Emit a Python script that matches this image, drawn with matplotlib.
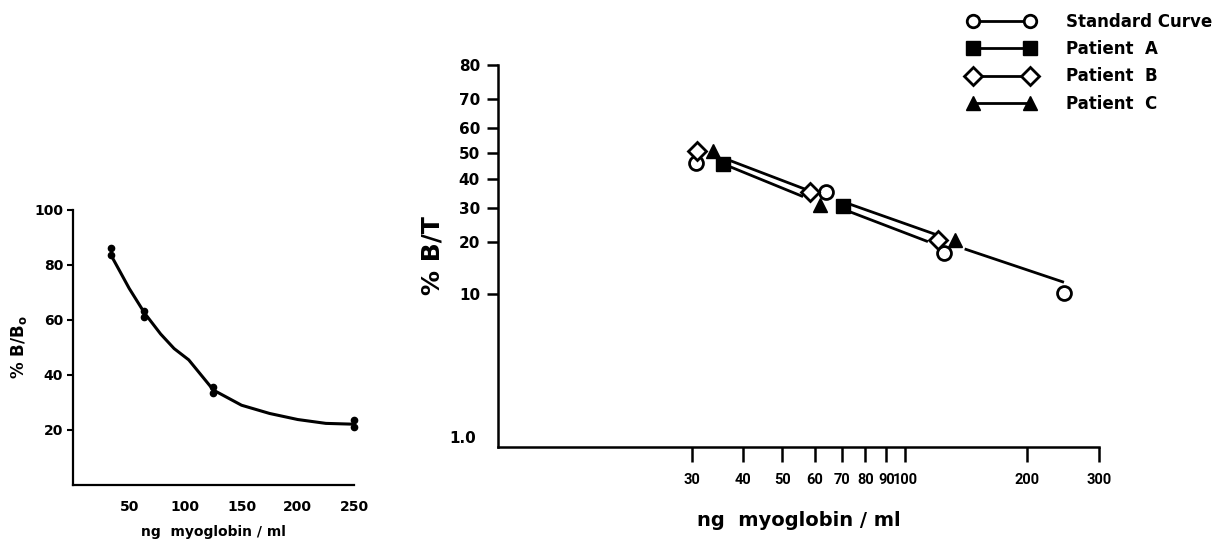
import numpy as np
import matplotlib
matplotlib.use('Agg')
import matplotlib.pyplot as plt
from matplotlib.lines import Line2D

plt.rcParams['font.family'] = ['DejaVu Sans']
plt.rcParams['font.weight'] = 'bold'

# left panel: % B/Bo against dose (duplicates)
dots_x = [34, 34, 63.5, 63.5, 125, 125, 250, 250]
dots_y = [86, 83.5, 63.4, 61.2, 35.8, 33.3, 23.6, 21.2]
curve_x = [33.8, 42, 50, 63.9, 78, 90, 103, 125, 150, 175, 200, 225, 250]
curve_y = [83.6, 77.5, 71.5, 62.4, 54.9, 49.6, 45.5, 34.5, 29.0, 26.0, 23.8, 22.4, 22.1]

# right panel: % B/T against dose (log / logit)
std_x = [30.6, 63.9, 124.8, 246.0]
std_y = [46.2, 35.5, 17.3, 10.1]
pat_a_x = [35.7, 70.6]
pat_a_y = [45.9, 30.5]
pat_b_x = [30.8, 58.5, 120.8]
pat_b_y = [51.1, 35.5, 20.5]
pat_c_x = [33.7, 61.8, 132.8]
pat_c_y = [51.0, 30.8, 20.4]

# lines as drawn in the figure (broken at the marker clusters)
line1_x = [37.2, 56.3, np.nan, 74.0, 118.6, np.nan, 141.3, 244.2]
line1_y = [47.2, 36.6, np.nan, 30.9, 22.0, np.nan, 18.2, 11.8]
line2_x = [37.2, 55.8, np.nan, 74.0, 113.1]
line2_y = [44.8, 33.9, np.nan, 28.4, 20.2]

xticks_r = [30, 40, 50, 60, 70, 80, 90, 100, 200, 300]
yticks_r = [10, 20, 30, 40, 50, 60, 70, 80]


def fwd(p):
    p = np.clip(np.asarray(p, dtype=float), 1e-6, 100 - 1e-6)
    return np.log(p / (100 - p))


def inv(z):
    return 100 / (1 + np.exp(-np.asarray(z, dtype=float)))


fig = plt.figure(figsize=(12.18, 5.42), dpi=100)

# ---- left
ax1 = fig.add_axes([0.0599, 0.1052, 0.2307, 0.5074])
ax1.plot(curve_x, curve_y, color='k', lw=2.2, solid_capstyle='round', solid_joinstyle='round')
ax1.plot(dots_x, dots_y, 'o', color='k', ms=4.5, clip_on=False)
ax1.set_xlim(0, 250)
ax1.set_ylim(0, 100)
ax1.set_xticks([50, 100, 150, 200, 250])
ax1.set_yticks([20, 40, 60, 80, 100])
ax1.tick_params(axis='x', length=0, pad=11, labelsize=10)
ax1.tick_params(axis='y', length=4, width=1.5, pad=3, labelsize=10)
ax1.set_xlabel('ng  myoglobin / ml', fontsize=10, fontweight='bold', labelpad=8)
ax1.set_ylabel(r'% B/B$_\mathbf{o}$', fontsize=12, fontweight='bold', labelpad=4)
for s in ['top', 'right']:
    ax1.spines[s].set_visible(False)
for s in ['left', 'bottom']:
    ax1.spines[s].set_linewidth(1.6)

# ---- right
ax2 = fig.add_axes([0.4089, 0.1758, 0.4934, 0.7043])
ax2.set_xscale('log')
ax2.set_yscale('function', functions=(fwd, inv))

ax2.plot(line1_x, line1_y, color='k', lw=2.0, zorder=2)
ax2.plot(line2_x, line2_y, color='k', lw=2.0, zorder=2)

ax2.plot(std_x, std_y, 'o', ms=10, mfc='white', mec='k', mew=2, zorder=3)
ax2.plot(pat_a_x, pat_a_y, 's', ms=10, color='k', zorder=3)
ax2.plot(pat_b_x, pat_b_y, 'D', ms=9, mfc='white', mec='k', mew=2, zorder=3)
ax2.plot(pat_c_x, pat_c_y, '^', ms=10, color='k', zorder=3)

ax2.set_xlim(10, 300)
ax2.set_ylim(1, 80)
ax2.set_xticks(xticks_r)
ax2.set_xticklabels([str(v) for v in xticks_r], family='Roboto', fontsize=10.5)
ax2.xaxis.set_minor_locator(matplotlib.ticker.NullLocator())
ax2.set_yticks(yticks_r)
ax2.set_yticklabels([str(v) for v in yticks_r])
ax2.yaxis.set_minor_locator(matplotlib.ticker.NullLocator())
ax2.tick_params(axis='x', length=11, width=1.8, pad=8)
ax2.tick_params(axis='y', length=8, width=1.8, pad=5, labelsize=11)
ax2.annotate('1.0', xy=(0, 1), xycoords=('axes fraction', 'data'),
             xytext=(-16, 6), textcoords='offset points',
             ha='right', va='center', fontsize=11, fontweight='bold')
ax2.set_xlabel('ng  myoglobin / ml', fontsize=14, fontweight='bold', labelpad=17)
ax2.set_ylabel('% B/T', fontsize=18, fontweight='bold', labelpad=10)
for s in ['top', 'right']:
    ax2.spines[s].set_visible(False)
for s in ['left', 'bottom']:
    ax2.spines[s].set_linewidth(1.8)

handles = [
    Line2D([], [], color='k', lw=2, marker='o', ms=9, mfc='white', mec='k', mew=2),
    Line2D([], [], color='k', lw=2, marker='s', ms=10),
    Line2D([], [], color='k', lw=2, marker='D', ms=9, mfc='white', mec='k', mew=2),
    Line2D([], [], color='k', lw=2, marker='^', ms=10),
]
labels = ['Standard Curve', 'Patient  A', 'Patient  B', 'Patient  C']
fig.legend(handles, labels, loc='upper left', bbox_to_anchor=(0.7947, 0.976),
           frameon=False, numpoints=2, handlelength=4.0, handletextpad=1.9,
           labelspacing=0.55, borderpad=0, borderaxespad=0,
           prop={'size': 12, 'weight': 'bold'})

fig.savefig('out.png', dpi=100)
